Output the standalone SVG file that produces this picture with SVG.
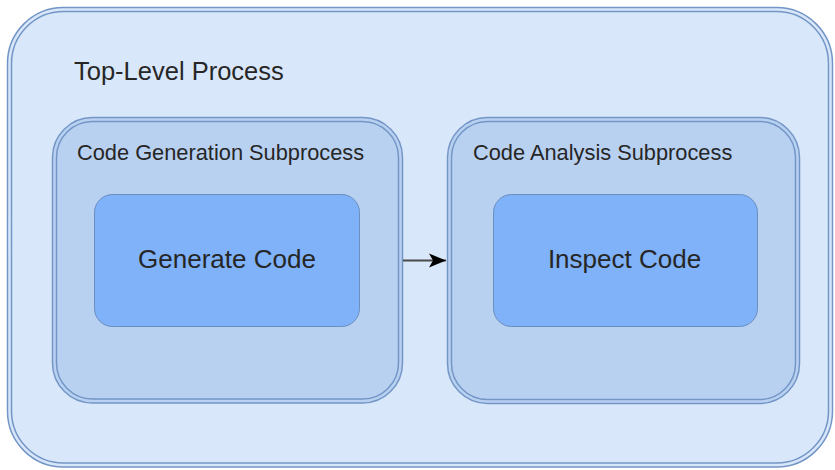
<svg xmlns="http://www.w3.org/2000/svg" width="835" height="470" viewBox="0 0 835 470">
<defs>
<style>
.dbl{stroke:#7396c6;stroke-width:1.5;}
.top{fill:#d9e7fa;}
.sub{fill:#b9d1f1;}
.task{fill:#7fb2f8;stroke:#6c8ebf;stroke-width:1;}
.lbl{font-family:"Liberation Sans",Arial,sans-serif;fill:#262626;}
.conn{stroke:#4a4a4a;stroke-width:2;fill:none;}
</style>
<marker id="arr" markerWidth="18" markerHeight="16" refX="17" refY="8" orient="auto" markerUnits="userSpaceOnUse">
<path d="M0,1 L17,8 L0,15 L4,8 Z" fill="#000"/>
</marker>
</defs>
<rect width="835" height="470" fill="#ffffff"/>
<g id="top-level">
<rect class="dbl top" x="7.5" y="7.5" width="825" height="459.5" rx="56"/>
<rect class="dbl" fill="none" x="11.5" y="11.5" width="817" height="451.5" rx="52"/>
<text class="lbl" x="74" y="80" font-size="25.5">Top-Level Process</text>
</g>
<g id="code-generation">
<rect class="dbl sub" x="52.5" y="117.5" width="350" height="285.5" rx="40"/>
<rect class="dbl" fill="none" x="56.5" y="121.5" width="342" height="277.5" rx="36"/>
<text class="lbl" x="77" y="160" font-size="21.8">Code Generation Subprocess</text>
</g>
<g id="code-analysis">
<rect class="dbl sub" x="447.5" y="117.5" width="352" height="286" rx="40"/>
<rect class="dbl" fill="none" x="451.5" y="121.5" width="344" height="278" rx="36"/>
<text class="lbl" x="473" y="160" font-size="21.8">Code Analysis Subprocess</text>
</g>
<g id="generate-code">
<rect class="task" x="94.5" y="194.5" width="265" height="132" rx="18"/>
<text class="lbl" x="227" y="268" font-size="26" text-anchor="middle">Generate Code</text>
</g>
<g id="inspect-code">
<rect class="task" x="493.5" y="194.5" width="264" height="132" rx="18"/>
<text class="lbl" x="624.5" y="268" font-size="26" text-anchor="middle">Inspect Code</text>
</g>
<g id="connectors">
<line class="conn" x1="403" y1="260.5" x2="446" y2="260.5" marker-end="url(#arr)"/>
</g>
</svg>
